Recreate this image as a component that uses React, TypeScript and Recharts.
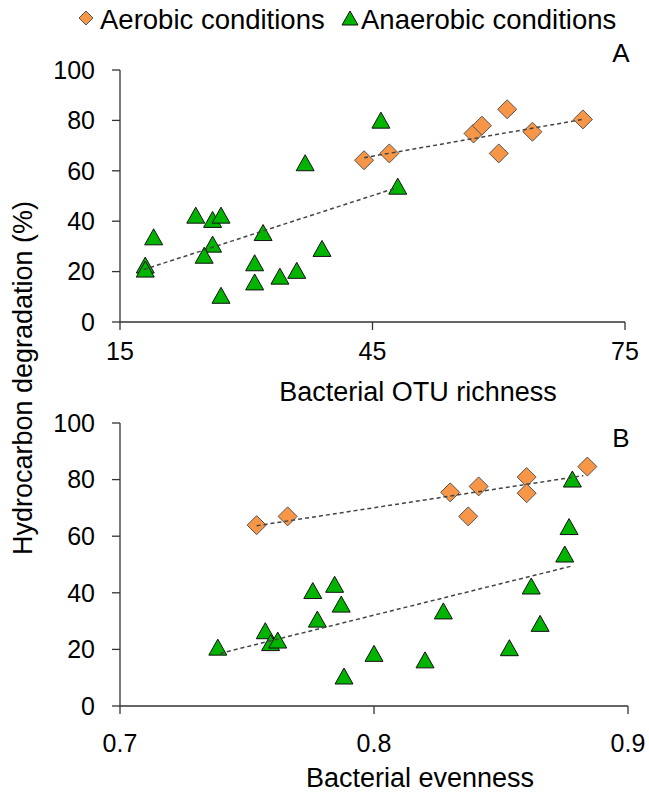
import React from 'react'
import { ScatterChart, Scatter, XAxis, YAxis } from 'recharts'

// Panel A: bacterial OTU richness
const aerobicRichness = [44, 47, 57, 58, 61, 60, 64, 70]
const aerobicRichnessDeg = [64.2, 66.9, 74.8, 77.9, 84.4, 66.9, 75.5, 80.4]
const anaerobicRichness = [18, 18, 19, 24, 26, 27, 26, 25, 27, 32, 31, 31, 34, 36, 39, 37, 46, 48]
const anaerobicRichnessDeg = [22.6, 21.0, 33.8, 42.4, 40.7, 42.4, 30.9, 26.5, 10.6, 35.5, 23.5, 15.9, 18.2, 20.5, 29.2, 63.2, 80.1, 53.9]

// Panel B: bacterial evenness
const aerobicEvenness = [0.7538, 0.766, 0.83, 0.8412, 0.8371, 0.8601, 0.8601, 0.884]
const aerobicEvennessDeg = [63.9, 67.0, 75.5, 77.6, 67.0, 80.9, 75.2, 84.6]
const anaerobicEvenness = [0.7385, 0.7572, 0.7593, 0.7621, 0.7759, 0.7845, 0.7871, 0.7777, 0.7882, 0.8, 0.8201, 0.8273, 0.8533, 0.8619, 0.8654, 0.8751, 0.8768, 0.8781]
const anaerobicEvennessDeg = [20.8, 26.6, 22.4, 23.3, 40.8, 43.0, 36.0, 30.7, 10.6, 18.6, 16.3, 33.6, 20.6, 42.4, 29.2, 53.7, 63.4, 80.2]

// trend line end points
const trendA_aer_x = [44, 70]
const trendA_aer_y = [65.2, 80.4]
const trendA_ana_x = [17.8, 47.9]
const trendA_ana_y = [20.8, 53.3]
const trendB_aer_x = [0.7538, 0.8824]
const trendB_aer_y = [63.7, 81.4]
const trendB_ana_x = [0.7394, 0.8781]
const trendB_ana_y = [18.6, 49.5]

const richnessTicks = [15, 45, 75]
const evennessTicks = [0.7, 0.8, 0.9]
const degTicks = [0, 20, 40, 60, 80, 100]

const FONT = '"Liberation Sans", Arial, sans-serif'
const ORANGE = '#f79646'
const GREEN = '#00b400'
const AXIS = '#333'

const zip = (xs: number[], ys: number[]) => xs.map((x, i) => ({ x, y: ys[i] }))

const Diamond = (props: any) => {
  const { cx, cy } = props
  const r = 9.5
  return (
    <polygon
      points={`${cx},${cy - r} ${cx + r},${cy} ${cx},${cy + r} ${cx - r},${cy}`}
      fill={ORANGE}
      stroke="#555"
      strokeWidth={1}
    />
  )
}

const Triangle = (props: any) => {
  const { cx, cy } = props
  const w = 9, h = 8
  return (
    <polygon
      points={`${cx},${cy - h} ${cx + w},${cy + h} ${cx - w},${cy + h}`}
      fill={GREEN}
      stroke="#111"
      strokeWidth={1}
    />
  )
}

const noDot = () => <g />
const trendLine = { stroke: '#444', strokeWidth: 1.5, strokeDasharray: '4 3' }
const tickStyle = { fill: '#000', fontSize: 25, fontFamily: FONT }

interface PanelProps {
  width: number
  height: number
  margin: { top: number; right: number; bottom: number; left: number }
  xDomain: [number, number]
  xTicks: number[]
  xHeight: number
  xTickMargin: number
  aer: { x: number; y: number }[]
  ana: { x: number; y: number }[]
  aerTrend: { x: number; y: number }[]
  anaTrend: { x: number; y: number }[]
}

function Panel(p: PanelProps) {
  return (
    <ScatterChart width={p.width} height={p.height} margin={p.margin}>
      <XAxis
        type="number"
        dataKey="x"
        domain={p.xDomain}
        ticks={p.xTicks}
        interval={0}
        height={p.xHeight}
        tick={tickStyle}
        tickSize={8}
        tickMargin={p.xTickMargin}
        axisLine={{ stroke: AXIS, strokeWidth: 1.3 }}
        tickLine={{ stroke: AXIS, strokeWidth: 1.3 }}
        allowDataOverflow
      />
      <YAxis
        type="number"
        dataKey="y"
        domain={[0, 100]}
        ticks={degTicks}
        interval={0}
        width={40}
        tick={tickStyle}
        tickSize={8}
        tickMargin={17}
        axisLine={{ stroke: AXIS, strokeWidth: 1.3 }}
        tickLine={{ stroke: AXIS, strokeWidth: 1.3 }}
      />
      <Scatter data={p.ana} shape={Triangle} isAnimationActive={false} />
      <Scatter data={p.aer} shape={Diamond} isAnimationActive={false} />
      <Scatter data={p.anaTrend} shape={noDot} line={trendLine} isAnimationActive={false} />
      <Scatter data={p.aerTrend} shape={noDot} line={trendLine} isAnimationActive={false} />
    </ScatterChart>
  )
}

export default function App() {
  return (
    <div style={{ position: 'fixed', left: 0, top: 0, width: 649, height: 795, background: '#fff', fontFamily: FONT }}>
      <div style={{ position: 'absolute', left: 0, top: 0 }}>
        <Panel
          width={649}
          height={400}
          margin={{ top: 70, right: 24, bottom: 0, left: 80 }}
          xDomain={[15, 75]}
          xTicks={richnessTicks}
          xHeight={78}
          xTickMargin={12}
          aer={zip(aerobicRichness, aerobicRichnessDeg)}
          ana={zip(anaerobicRichness, anaerobicRichnessDeg)}
          aerTrend={zip(trendA_aer_x, trendA_aer_y)}
          anaTrend={zip(trendA_ana_x, trendA_ana_y)}
        />
      </div>
      <div style={{ position: 'absolute', left: 0, top: 400 }}>
        <Panel
          width={649}
          height={395}
          margin={{ top: 23, right: 21, bottom: 0, left: 80 }}
          xDomain={[0.7, 0.9]}
          xTicks={evennessTicks}
          xHeight={89}
          xTickMargin={20}
          aer={zip(aerobicEvenness, aerobicEvennessDeg)}
          ana={zip(anaerobicEvenness, anaerobicEvennessDeg)}
          aerTrend={zip(trendB_aer_x, trendB_aer_y)}
          anaTrend={zip(trendB_ana_x, trendB_ana_y)}
        />
      </div>
      <svg width={649} height={795} style={{ position: 'absolute', left: 0, top: 0, pointerEvents: 'none' }}>
        <g fontFamily={FONT} fill="#000">
          <polygon points="86,11 93,18 86,25 79,18" fill={ORANGE} stroke="#555" strokeWidth={1} />
          <text x={100} y={19} fontSize={27.5} dominantBaseline="central">Aerobic conditions</text>
          <polygon points="350,11 358,25 342,25" fill={GREEN} stroke="#111" strokeWidth={1} />
          <text x={361} y={19} fontSize={27.5} dominantBaseline="central">Anaerobic conditions</text>
          <text x={621} y={53} fontSize={26} textAnchor="middle" dominantBaseline="central">A</text>
          <text x={621} y={438} fontSize={26} textAnchor="middle" dominantBaseline="central">B</text>
          <text x={418} y={392} fontSize={27} textAnchor="middle" dominantBaseline="central">Bacterial OTU richness</text>
          <text x={420} y={778} fontSize={27} textAnchor="middle" dominantBaseline="central">Bacterial evenness</text>
          <text x={23} y={378} fontSize={27} textAnchor="middle" dominantBaseline="central" transform="rotate(-90 23 378)">
            Hydrocarbon degradation (%)
          </text>
        </g>
      </svg>
    </div>
  )
}
